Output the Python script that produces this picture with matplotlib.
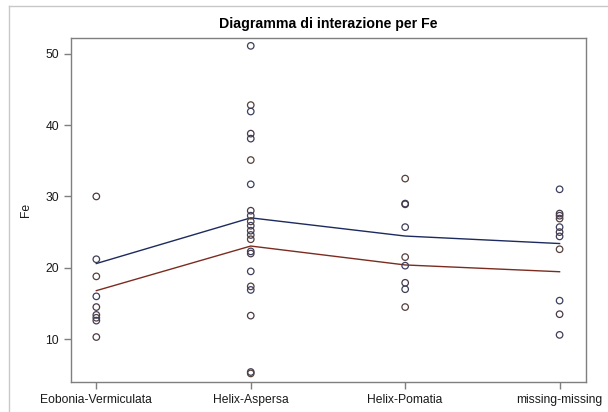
import matplotlib
matplotlib.use("Agg")
import matplotlib.pyplot as plt
from matplotlib.lines import Line2D

plt.rcParams["font.family"] = ["Liberation Sans", "DejaVu Sans"]

categories = ["Eobonia-Vermiculata", "Helix-Aspersa", "Helix-Pomatia", "missing-missing"]

# Individual Fe observations per species
fe_eobonia = [30.0, 21.2, 18.8, 16.0, 14.5, 13.4, 13.0, 12.6, 10.3]
fe_aspersa = [51.1, 42.8, 41.9, 38.8, 38.1, 35.1, 31.7, 28.0, 27.3, 26.5, 25.9,
              25.2, 24.6, 24.0, 22.3, 22.0, 19.5, 17.4, 16.9, 13.3, 5.4, 5.2]
fe_pomatia = [32.5, 29.0, 28.9, 25.7, 21.5, 20.3, 17.9, 17.0, 14.5]
fe_missing = [31.0, 27.6, 27.3, 26.9, 25.7, 25.0, 24.4, 22.6, 15.4, 13.5, 10.6]

# Interaction profiles (one value per species)
profile_blue = [20.6, 27.0, 24.45, 23.4]
profile_red = [16.8, 23.05, 20.4, 19.45]

yticks = [10, 20, 30, 40, 50]

fig = plt.figure(figsize=(6.08, 4.12), dpi=100)
ax = fig.add_axes([71 / 608, 1 - 382 / 412, (586 - 71) / 608, (382 - 38) / 412])

point_edges = ["#4b3a45", "#3e3f58", "#55403c", "#3b4060"]
for i, vals in enumerate([fe_eobonia, fe_aspersa, fe_pomatia, fe_missing]):
    ax.scatter([i] * len(vals), vals, s=22, facecolors="none",
               edgecolors=[point_edges[(i + k) % 4] for k in range(len(vals))],
               linewidths=0.9, zorder=3)

x = list(range(len(categories)))
ax.plot(x, profile_blue, color="#1d2a5e", lw=1.0, zorder=2)
ax.plot(x, profile_red, color="#7a2c20", lw=1.0, zorder=2)

ax.set_xlim(-0.164, 3.171)
ax.set_ylim(4.0, 52.2)
ax.set_xticks(x)
ax.set_xticklabels(categories)
ax.set_yticks(yticks)

for sp in ax.spines.values():
    sp.set_color("#7f7f7f")
    sp.set_linewidth(1.0)
ax.tick_params(direction="out", length=5, width=1.0, color="#7f7f7f",
               labelsize=8.7, labelcolor="#1a1a1a", pad=3.5)

ax.set_ylabel("Fe", fontsize=8.7, color="#1a1a1a", labelpad=10)
ax.set_title("Diagramma di interazione per Fe", fontsize=10.2, fontweight="bold",
             pad=7)

# Light outer frame
fig.add_artist(Line2D([9 / 608, 1], [1 - 6 / 412, 1 - 6 / 412],
                      transform=fig.transFigure, color="#c8c8c8", lw=1.0))
fig.add_artist(Line2D([9 / 608, 9 / 608], [0, 1 - 6 / 412],
                      transform=fig.transFigure, color="#c8c8c8", lw=1.0))

fig.savefig("out.png", dpi=100)
